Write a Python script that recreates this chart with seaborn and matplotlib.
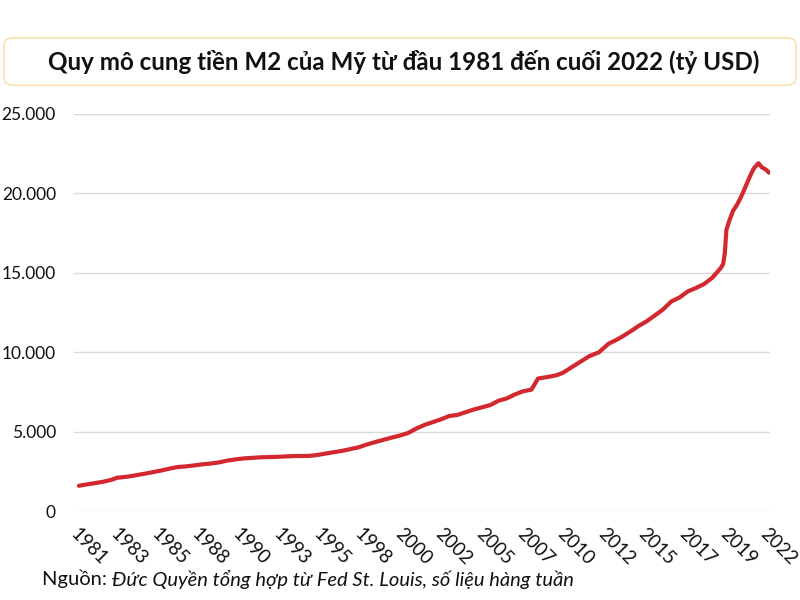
#!/usr/bin/env python3
"""M2 money supply of the US, 1981-2022 (billion USD)."""

import matplotlib.pyplot as plt
import pandas as pd
import seaborn as sns
from matplotlib.patches import FancyBboxPatch
from matplotlib.ticker import FuncFormatter
import numpy as np

# decimal year -> M2 (billion USD)
years = [
    1981.0, 1981.5, 1982.0, 1982.5, 1983.0, 1983.3, 1984.0, 1984.5, 1985.0,
    1985.5, 1986.0, 1986.5, 1987.0, 1987.5, 1988.0, 1988.5, 1989.0, 1989.5,
    1990.0, 1990.5, 1991.0, 1992.0, 1993.0, 1994.0, 1995.0, 1995.5, 1996.0,
    1997.0, 1998.0, 1998.5, 1999.0, 2000.0, 2000.5, 2001.0, 2001.5, 2002.0,
    2003.0, 2003.5, 2004.0, 2005.0, 2006.0, 2006.5, 2007.0, 2007.5, 2008.0,
    2008.5, 2008.9, 2009.5, 2010.0, 2010.4, 2011.0, 2011.7, 2012.0, 2012.6,
    2013.2, 2013.7, 2014.0, 2014.5, 2015.0, 2015.5, 2016.0, 2016.5, 2017.0,
    2017.5, 2018.0, 2018.5, 2019.0, 2019.5, 2020.0, 2020.15, 2020.25, 2020.35,
    2020.5, 2020.75, 2021.0, 2021.25, 2021.5, 2021.75, 2022.0, 2022.2,
    2022.3, 2022.5, 2022.75, 2022.95,
]
m2 = [
    1600, 1690, 1770, 1860, 1980, 2100, 2180, 2270, 2360,
    2460, 2560, 2680, 2780, 2820, 2880, 2950, 3000, 3070,
    3180, 3260, 3320, 3390, 3420, 3470, 3480, 3540, 3630,
    3800, 4020, 4200, 4350, 4630, 4760, 4920, 5200, 5430,
    5780, 5990, 6060, 6400, 6680, 6950, 7100, 7350, 7550,
    7650, 8350, 8450, 8550, 8700, 9100, 9550, 9750, 10000,
    10550, 10800, 10980, 11300, 11650, 11950, 12320, 12700, 13200,
    13450, 13830, 14050, 14300, 14700, 15300, 15550, 16200, 17700,
    18200, 18900, 19300, 19800, 20400, 21000, 21550, 21800,
    21900, 21650, 21500, 21300,
]
tick_labels = [
    "1981", "1983", "1985", "1988", "1990", "1993", "1995", "1998", "2000",
    "2002", "2005", "2007", "2010", "2012", "2015", "2017", "2019", "2022",
]
y_ticks = [0, 5000, 10000, 15000, 20000, 25000]

title = "Quy mô cung tiền M2 của Mỹ từ đầu 1981 đến cuối 2022 (tỷ USD)"
source_head = "Nguồn: "
source_body = "Đức Quyền tổng hợp từ Fed St. Louis, số liệu hàng tuần"

sns.set_theme(style="white")
plt.rcParams["font.family"] = ["Lato", "DejaVu Sans"]

df = pd.DataFrame({"year": years, "m2": m2})

fig = plt.figure(figsize=(8, 6), dpi=100)
ax = fig.add_axes([0.0925, 0.148, 0.87, 0.662])

sns.lineplot(data=df, x="year", y="m2", ax=ax, color="#D2282E", linewidth=3)

ax.set_xlim(years[0] - 0.3, years[-1] + 0.05)
ax.set_ylim(0, 25000)
ax.set_yticks(y_ticks)
ax.yaxis.set_major_formatter(FuncFormatter(lambda v, _: f"{int(v):,}".replace(",", ".")))
ax.grid(axis="y", color="#d9d9d9", linewidth=1)
ax.set_axisbelow(True)
for s in ax.spines.values():
    s.set_visible(False)
ax.set_xlabel("")
ax.set_ylabel("")

ax.set_xticks(np.linspace(years[0], years[-1], len(tick_labels)))
ax.set_xticklabels(tick_labels, rotation=-45, ha="left", rotation_mode="anchor",
                   fontsize=13.5, color="#111111")
ax.tick_params(axis="x", length=0, pad=10)
ax.tick_params(axis="y", length=0, pad=13, labelsize=12.5, labelcolor="#111111")

# title box
box = FancyBboxPatch((0.005, 0.858), 0.99, 0.079, transform=fig.transFigure,
                     boxstyle="round,pad=0,rounding_size=0.012",
                     facecolor="white", edgecolor="#F8E2AC", linewidth=1.2)
fig.patches.append(box)
fig.text(0.505, 0.897, title, ha="center", va="center", fontsize=17.4,
         fontweight="bold", color="#111111")

# source line: regular head + italic body
head = fig.text(0.052, 0.035, source_head, ha="left", va="center",
                fontsize=14.5, color="#111111")
fig.canvas.draw()
bb = head.get_window_extent(renderer=fig.canvas.get_renderer())
x_next = bb.x1 / fig.bbox.width
fig.text(x_next, 0.035, source_body, ha="left", va="center",
         fontsize=14.5, style="italic", color="#111111")

fig.savefig("out.png", dpi=100)
